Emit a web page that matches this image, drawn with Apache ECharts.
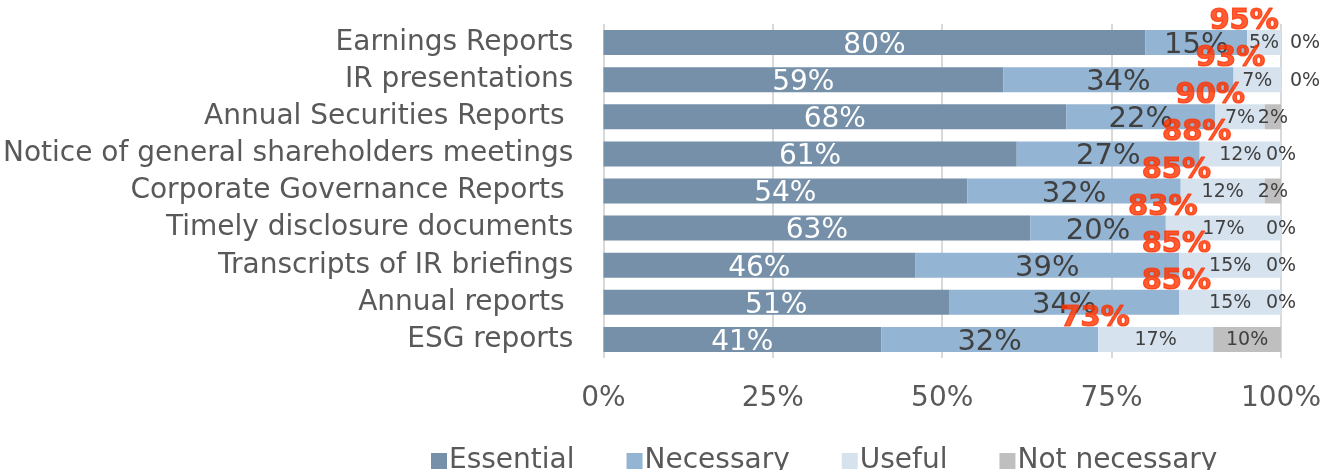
<!DOCTYPE html>
<html>
<head>
<meta charset="utf-8">
<script src="https://cdn.jsdelivr.net/npm/echarts@6/dist/echarts.min.js"></script>
<style>
  html, body { margin: 0; padding: 0; background: #fff; }
  #chart { width: 1335px; height: 470px; }
</style>
</head>
<body>
<div id="chart"></div>
<script>
// 类别（从上到下）
const categories = [
    'Earnings Reports',
    'IR presentations',
    'Annual Securities Reports ',
    'Notice of general shareholders meetings',
    'Corporate Governance Reports ',
    'Timely disclosure documents',
    'Transcripts of IR briefings',
    'Annual reports ',
    'ESG reports'
];

// 各系列数值（%）
const essential    = [80, 59, 68.3, 61, 53.7, 63, 46, 51, 41];
const necessary    = [15, 34, 22.0, 27, 31.5, 20, 39, 34, 32];
const useful       = [5, 7, 7.3, 12, 12.4, 17, 15, 15, 17];
const notNecessary = [0, 0, 2.4, 0, 2.4, 0, 0, 0, 10];

// Essential + Necessary 合计（红色标签）
const topTwo = [95, 93, 90, 88, 85, 83, 85, 85, 73];

const seriesNames = ['Essential', 'Necessary', 'Useful', 'Not necessary'];
const colors = ['#7590a8', '#93b4d3', '#d6e3ef', '#bfbfbf'];

const FONT = '"DejaVu Sans", Verdana, sans-serif';
const pct = p => Math.round(p.value) + '%';

function barSeries(name, data, color, labelColor, labelSize) {
    return {
        name: name,
        type: 'bar',
        stack: 'total',
        barWidth: 25,
        data: data,
        itemStyle: { color: color },
        label: {
            show: true,
            position: 'inside',
            offset: [0, labelSize > 22 ? 3 : 1],
            formatter: pct,
            color: labelColor,
            fontSize: labelSize,
            fontFamily: FONT
        },
        emphasis: { disabled: true }
    };
}

const chart = echarts.init(document.getElementById('chart'));
chart.setOption({
    animation: false,
    textStyle: { fontFamily: FONT },
    grid: { left: 603, right: 54, top: 24, bottom: 112, containLabel: false },
    legend: {
        data: seriesNames,
        left: 426,
        top: 442,
        icon: 'rect',
        itemWidth: 16,
        itemHeight: 16,
        itemGap: 52,
        textStyle: { fontSize: 28, color: '#595959', fontFamily: FONT, padding: [0, 0, 0, -3] }
    },
    xAxis: {
        type: 'value',
        min: 0,
        max: 100,
        interval: 25,
        axisLine: { show: false },
        axisTick: { show: false },
        axisLabel: { formatter: '{value}%', fontSize: 28, color: '#595959', margin: 27, fontFamily: FONT },
        splitLine: { show: true, lineStyle: { color: '#d9d9d9', width: 2 } }
    },
    yAxis: {
        type: 'category',
        data: categories,
        inverse: true,
        axisLine: { show: false },
        axisTick: { show: false },
        axisLabel: { fontSize: 28, color: '#595959', margin: 30, fontFamily: FONT }
    },
    series: [
        barSeries('Essential', essential, colors[0], '#ffffff', 28),
        barSeries('Necessary', necessary, colors[1], '#404040', 29),
        barSeries('Useful', useful, colors[2], '#404040', 19),
        barSeries('Not necessary',
            notNecessary.map((v, i) => i < 2 ? { value: v, label: { offset: [24, 1] } } : v),
            colors[3], '#404040', 19),
        {
            name: 'Top two',
            type: 'scatter',
            data: topTwo,
            symbolSize: 0,
            z: 10,
            silent: true,
            label: {
                show: true,
                position: 'inside',
                offset: [-3, -21],
                formatter: pct,
                color: '#ff3300',
                fontSize: 29,
                fontWeight: 'bold',
                fontFamily: FONT,
                textBorderColor: '#ff3300',
                textBorderWidth: 1.2
            }
        }
    ]
});
</script>
</body>
</html>
